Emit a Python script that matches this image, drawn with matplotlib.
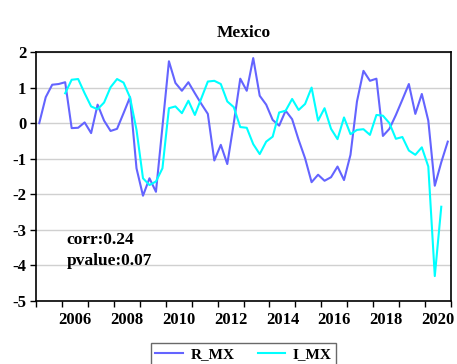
import numpy as np
import matplotlib.pyplot as plt
from matplotlib.ticker import FixedLocator

# quarterly data, 2005Q1 - 2020Q4
start_year = 2005
r_mx = [0.00, 0.73, 1.08, 1.10,
        1.15, -0.14, -0.13, 0.02,
        -0.28, 0.52, 0.07, -0.22,
        -0.16, 0.28, 0.73, -1.27,
        -2.04, -1.55, -1.93, -0.10,
        1.74, 1.13, 0.91, 1.15,
        0.84, 0.54, 0.26, -1.05,
        -0.61, -1.15, 0.00, 1.25,
        0.91, 1.83, 0.77, 0.52,
        0.09, -0.07, 0.35, 0.11,
        -0.47, -0.99, -1.66, -1.45,
        -1.62, -1.52, -1.22, -1.60,
        -0.89, 0.61, 1.47, 1.19,
        1.25, -0.36, -0.16, 0.23,
        0.66, 1.10, 0.26, 0.82,
        0.07, -1.76, -1.10, -0.52]
i_mx = [np.nan, np.nan, np.nan, np.nan,
        0.84, 1.22, 1.24, 0.84,
        0.47, 0.39, 0.58, 1.01,
        1.24, 1.14, 0.72, -0.19,
        -1.55, -1.74, -1.64, -1.27,
        0.42, 0.47, 0.28, 0.63,
        0.23, 0.70, 1.17, 1.19,
        1.10, 0.61, 0.45, -0.11,
        -0.13, -0.59, -0.87, -0.52,
        -0.38, 0.30, 0.35, 0.68,
        0.37, 0.54, 1.00, 0.07,
        0.42, -0.16, -0.45, 0.16,
        -0.31, -0.19, -0.17, -0.33,
        0.23, 0.21, 0.00, -0.44,
        -0.39, -0.77, -0.89, -0.68,
        -1.22, -4.30, -2.35, np.nan]
corr_text = "corr:0.24"
pvalue_text = "pvalue:0.07"
year_labels = [2006, 2008, 2010, 2012, 2014, 2016, 2018, 2020]

t = start_year + (np.arange(len(r_mx)) + 0.5) / 4

plt.rcParams["font.family"] = ["Liberation Serif", "DejaVu Serif"]
plt.rcParams["font.weight"] = "bold"

fig = plt.figure(figsize=(4.57, 3.64), dpi=100)
ax = fig.add_axes([36 / 457, 1 - 301 / 364, 415 / 457, 249 / 364])

ax.plot(t, r_mx, color="#6464ff", lw=1.5, label="R_MX")
ax.plot(t, i_mx, color="#00ffff", lw=1.5, label="I_MX")

ax.set_xlim(2005, 2021)
ax.set_ylim(-5, 2)
ax.set_yticks(range(-5, 3))
ax.set_yticklabels([str(v) for v in range(-5, 3)], fontweight="bold", fontsize=12)
ax.yaxis.grid(True, color="#d0d0d0", lw=1)
ax.set_axisbelow(True)

# year tick marks, labels centred on the year
ax.xaxis.set_minor_locator(FixedLocator(range(2005, 2022)))
ax.set_xticks([y + 0.5 for y in year_labels])
ax.set_xticklabels([str(y) for y in year_labels], fontweight="bold", fontsize=12)
ax.tick_params(axis="x", which="major", length=0, pad=8)
ax.tick_params(axis="x", which="minor", length=4, width=1, direction="out")
ax.tick_params(axis="y", length=4, width=1, direction="out", pad=3)
for s in ax.spines.values():
    s.set_linewidth(1.2)

ax.text(2006.19, -3.4, corr_text, fontsize=12.5, fontweight="bold", va="baseline")
ax.text(2006.19, -4.0, pvalue_text, fontsize=12.5, fontweight="bold", va="baseline")

ax.set_title("Mexico", fontsize=12.5, fontweight="bold", pad=11)

leg = fig.legend(loc="upper center", bbox_to_anchor=(243.5 / 457, 1 - 335 / 364), ncol=2,
                 frameon=True, fancybox=False, edgecolor="#444444",
                 handlelength=1.8, handletextpad=0.5, columnspacing=1.5, borderpad=0.3,
                 prop={"weight": "bold", "size": 11})
leg.get_frame().set_linewidth(1)

fig.savefig("out.png", dpi=100)
